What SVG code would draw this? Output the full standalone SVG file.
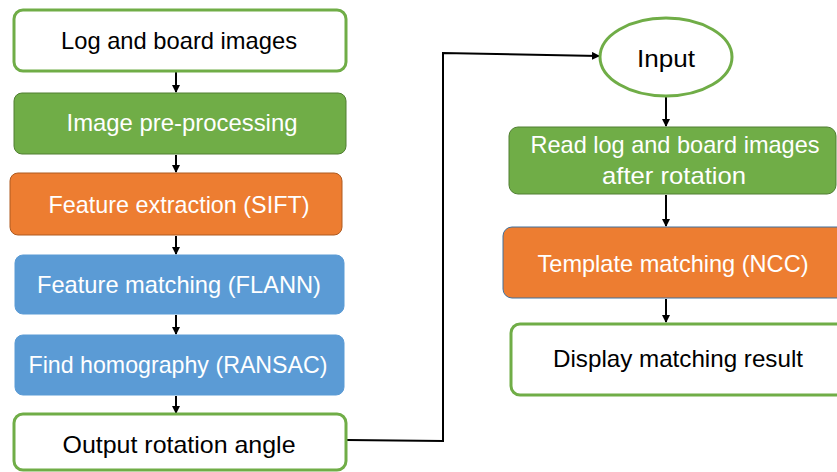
<svg xmlns="http://www.w3.org/2000/svg" width="837" height="472" viewBox="0 0 837 472">
<style>
.t{font-family:"Liberation Sans","Open Sans",Arial,sans-serif;font-size:24px;text-anchor:middle}
.w{fill:#ffffff}
.k{fill:#000000}
.outline{fill:#ffffff;stroke:#70AD47;stroke-width:3}
.green{fill:#70AD47;stroke:#507E32;stroke-width:1}
.orange{fill:#ED7D31;stroke:#AE5A21;stroke-width:1}
.orange2{fill:#ED7D31;stroke:#41719C;stroke-width:1}
.blue{fill:#5B9BD5;stroke:#5B9BD5;stroke-width:1}
.c{fill:none;stroke:#000;stroke-width:2}
</style>
<defs>
<marker id="ah" markerWidth="8" markerHeight="8" refX="7" refY="4" orient="auto" markerUnits="userSpaceOnUse">
<path d="M0,0 L8,4 L0,8 Z" fill="#000"/>
</marker>
</defs>
<rect width="837" height="472" fill="#ffffff"/>
<g id="connectors">
<line class="c" x1="176" y1="72" x2="176" y2="92" marker-end="url(#ah)"/>
<line class="c" x1="176" y1="155" x2="176" y2="172" marker-end="url(#ah)"/>
<line class="c" x1="176" y1="236" x2="176" y2="254" marker-end="url(#ah)"/>
<line class="c" x1="176" y1="315" x2="176" y2="334" marker-end="url(#ah)"/>
<line class="c" x1="176" y1="396" x2="176" y2="413" marker-end="url(#ah)"/>
<polyline class="c" points="347,440 443,441 443,53 599,56" marker-end="url(#ah)"/>
<line class="c" x1="666" y1="97" x2="666" y2="126" marker-end="url(#ah)"/>
<line class="c" x1="666" y1="195" x2="666" y2="226" marker-end="url(#ah)"/>
<line class="c" x1="666" y1="299" x2="666" y2="322" marker-end="url(#ah)"/>
</g>
<g id="n1">
<rect class="outline" x="14" y="10" width="332" height="61" rx="9"/>
<text class="t k" x="179" y="49" textLength="236" lengthAdjust="spacingAndGlyphs">Log and board images</text>
</g>
<g id="n2">
<rect class="green" x="14" y="93" width="332" height="61" rx="8"/>
<text class="t w" x="182" y="131" textLength="231" lengthAdjust="spacingAndGlyphs">Image pre-processing</text>
</g>
<g id="n3">
<rect class="orange" x="10" y="173" width="332" height="62" rx="8"/>
<text class="t w" x="179" y="213" textLength="261" lengthAdjust="spacingAndGlyphs">Feature extraction (SIFT)</text>
</g>
<g id="n4">
<rect class="blue" x="15" y="255" width="329" height="59" rx="8"/>
<text class="t w" x="179" y="293" textLength="284" lengthAdjust="spacingAndGlyphs">Feature matching (FLANN)</text>
</g>
<g id="n5">
<rect class="blue" x="15" y="335" width="329" height="60" rx="8"/>
<text class="t w" x="178" y="373" textLength="299" lengthAdjust="spacingAndGlyphs">Find homography (RANSAC)</text>
</g>
<g id="n6">
<rect class="outline" x="14" y="414" width="332" height="56" rx="9"/>
<text class="t k" x="179" y="453" textLength="233" lengthAdjust="spacingAndGlyphs">Output rotation angle</text>
</g>
<g id="n7">
<ellipse class="outline" cx="666" cy="57" rx="66" ry="39"/>
<text class="t k" x="666" y="67" textLength="58" lengthAdjust="spacingAndGlyphs">Input</text>
</g>
<g id="n8">
<rect class="green" x="509" y="127" width="327" height="67" rx="9"/>
<text class="t w" x="675" y="153" textLength="289" lengthAdjust="spacingAndGlyphs">Read log and board images</text>
<text class="t w" x="674" y="184" textLength="144" lengthAdjust="spacingAndGlyphs">after rotation</text>
</g>
<g id="n9">
<rect class="orange2" x="503" y="227" width="345" height="71" rx="9"/>
<text class="t w" x="673" y="272" textLength="271" lengthAdjust="spacingAndGlyphs">Template matching (NCC)</text>
</g>
<g id="n10">
<rect class="outline" x="511" y="324" width="340" height="71" rx="9"/>
<text class="t k" x="678" y="367" textLength="250" lengthAdjust="spacingAndGlyphs">Display matching result</text>
</g>
</svg>
